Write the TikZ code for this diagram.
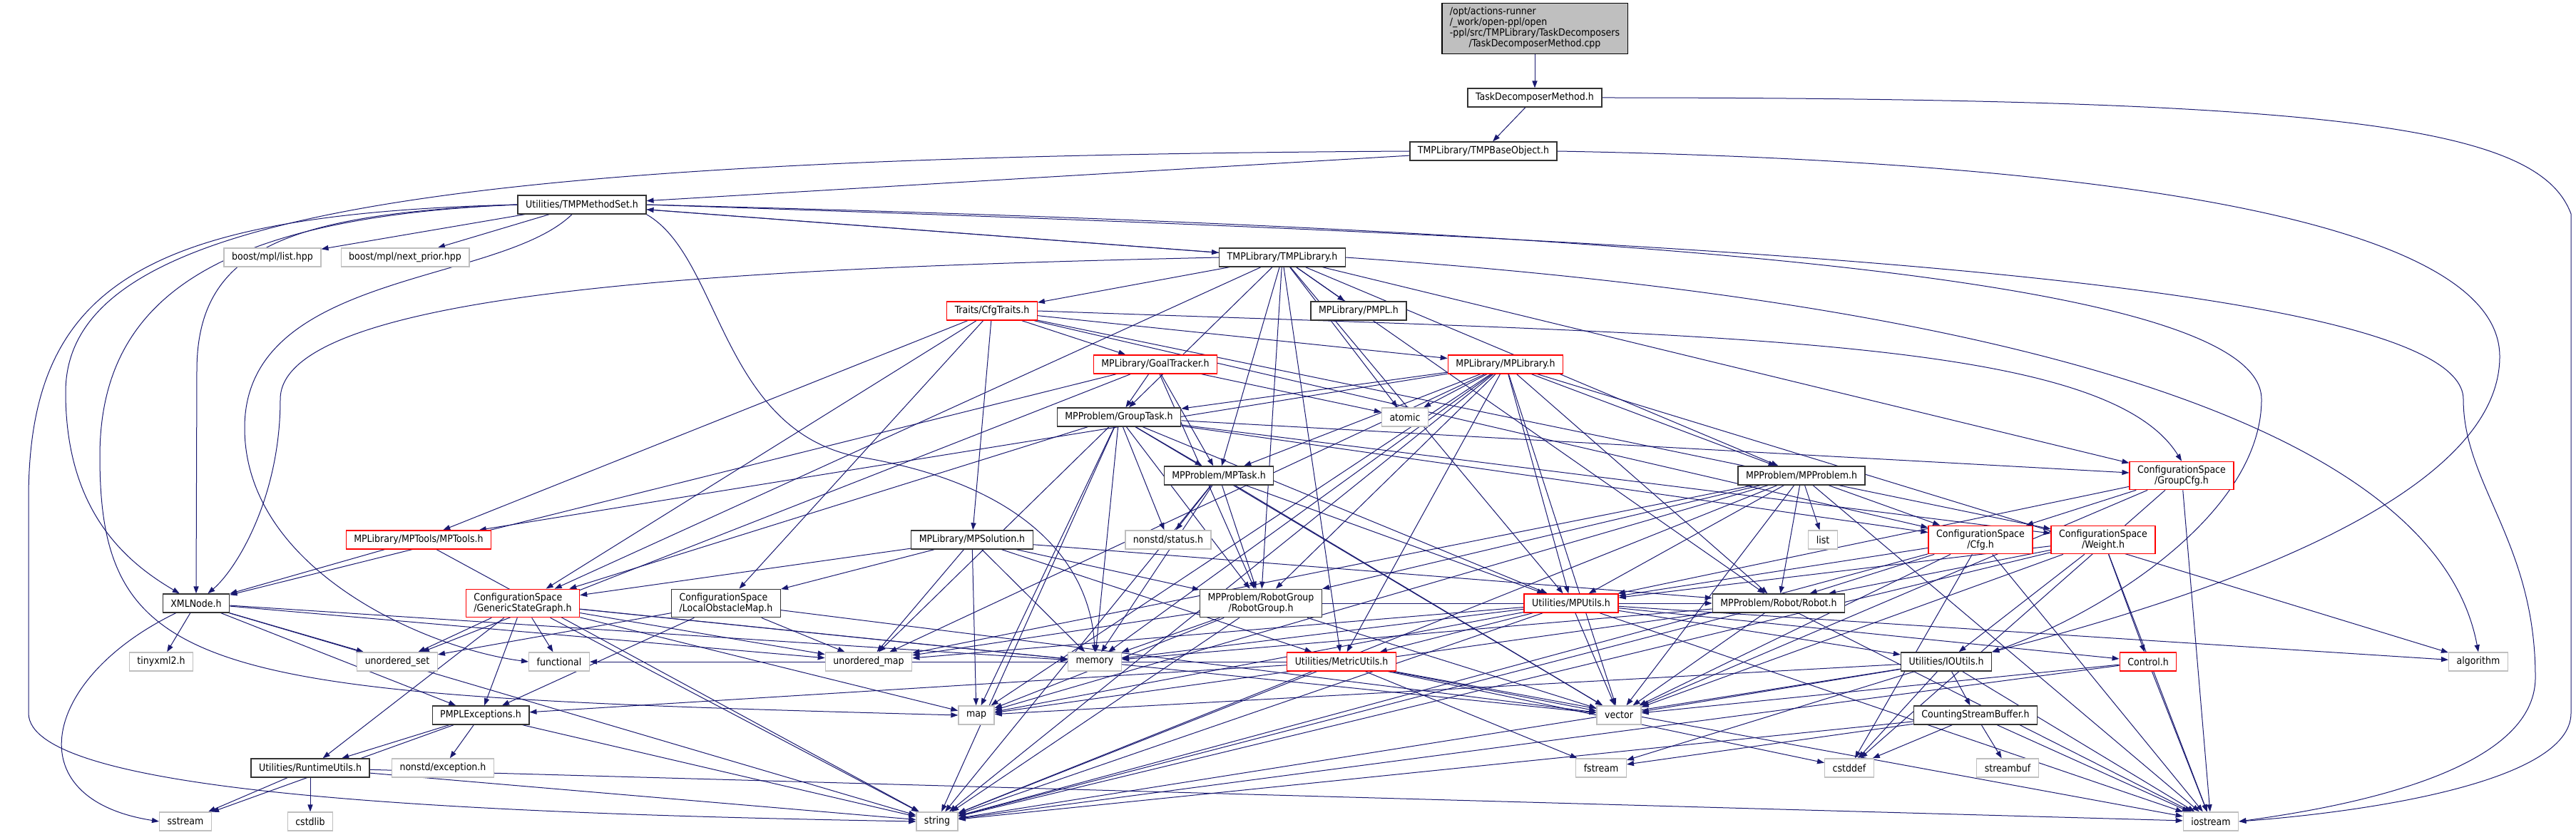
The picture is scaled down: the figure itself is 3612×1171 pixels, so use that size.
\documentclass[tikz,border=0pt]{standalone}
\usepackage{fontspec}
\setmainfont{DejaVu Sans Condensed}
\usetikzlibrary{arrows.meta}
\definecolor{edgeBlue}{RGB}{25,25,112}
\definecolor{sysGray}{RGB}{191,191,191}
\definecolor{warnRed}{RGB}{255,0,0}
\pgfdeclarelayer{bg}
\pgfsetlayers{bg,main}

\begin{document}
\begin{tikzpicture}[x=0.5pt, y=-0.5pt,
  hdr/.style={draw=black!80, line width=0.7pt, fill=white, font=\fontsize{7}{7.3}\selectfont,
    inner xsep=5.5pt, inner ysep=2.8pt, minimum height=13pt, align=center},
  trunc/.style={hdr, draw=warnRed},
  sys/.style={hdr, draw=sysGray},
  edge/.style={edgeBlue, line width=0.5pt, -{Triangle[length=5pt,width=3.6pt]}}]
  \useasboundingbox (0,0) rectangle (3612,1171);

  % files
  \node[hdr, fill=sysGray, draw=black] (root) at (2152,40) {\begin{tabular}{@{}l@{}}/opt/actions-runner\\/\_work/open-ppl/open\\-ppl/src/TMPLibrary/TaskDecomposers\\\multicolumn{1}{@{}c@{}}{/TaskDecomposerMethod.cpp}\end{tabular}};
  \node[hdr] (tdm) at (2152,137) {TaskDecomposerMethod.h};
  \node[hdr] (tbo) at (2080,212) {TMPLibrary/TMPBaseObject.h};
  \node[hdr] (tms) at (816,287) {Utilities/TMPMethodSet.h};
  \node[hdr] (tlib) at (1798,361) {TMPLibrary/TMPLibrary.h};
  \node[sys] (blist) at (382,361) {boost/mpl/list.hpp};
  \node[sys] (bnext) at (568,361) {boost/mpl/next\_prior.hpp};
  \node[trunc] (cfgtr) at (1391,436) {Traits/CfgTraits.h};
  \node[hdr] (pmpl) at (1905,436) {MPLibrary/PMPL.h};
  \node[trunc] (goal) at (1620,511) {MPLibrary/GoalTracker.h};
  \node[trunc] (mplib) at (2111,511) {MPLibrary/MPLibrary.h};
  \node[sys] (atomic) at (1970,585) {atomic};
  \node[hdr] (gtask) at (1569,585) {MPProblem/GroupTask.h};
  \node[hdr] (mptask) at (1709,667) {MPProblem/MPTask.h};
  \node[hdr] (mpprob) at (2526,667) {MPProblem/MPProblem.h};
  \node[trunc] (gcfg) at (3059,667) {ConfigurationSpace\\/GroupCfg.h};
  \node[trunc] (mptools) at (587,757) {MPLibrary/MPTools/MPTools.h};
  \node[hdr] (mpsol) at (1363,757) {MPLibrary/MPSolution.h};
  \node[sys] (status) at (1638,757) {nonstd/status.h};
  \node[sys] (list) at (2556,757) {list};
  \node[trunc] (cfg) at (2777,757) {ConfigurationSpace\\/Cfg.h};
  \node[trunc] (weight) at (2949,757) {ConfigurationSpace\\/Weight.h};
  \node[hdr] (xml) at (275,846) {XMLNode.h};
  \node[trunc, align=left] (gsg) at (733,846) {ConfigurationSpace\\/GenericStateGraph.h};
  \node[hdr, align=left] (lom) at (1018,846) {ConfigurationSpace\\/LocalObstacleMap.h};
  \node[hdr] (rgroup) at (1768,846) {MPProblem/RobotGroup\\/RobotGroup.h};
  \node[trunc] (mputils) at (2203,846) {Utilities/MPUtils.h};
  \node[hdr] (robot) at (2494,846) {MPProblem/Robot/Robot.h};
  \node[sys] (tinyxml) at (226,928) {tinyxml2.h};
  \node[sys] (uset) at (557,928) {unordered\_set};
  \node[sys] (functional) at (784,928) {functional};
  \node[sys] (umap) at (1218,928) {unordered\_map};
  \node[sys] (memory) at (1535,928) {memory};
  \node[trunc] (metric) at (1881,928) {Utilities/MetricUtils.h};
  \node[hdr] (ioutils) at (2729,928) {Utilities/IOUtils.h};
  \node[trunc] (control) at (3012,928) {Control.h};
  \node[sys] (algorithm) at (3475,928) {algorithm};
  \node[hdr] (pmplex) at (674,1003) {PMPLExceptions.h};
  \node[sys] (map) at (1369,1003) {map};
  \node[sys] (vector) at (2270,1003) {vector};
  \node[hdr] (csb) at (2770,1003) {CountingStreamBuffer.h};
  \node[hdr] (runtime) at (435,1077) {Utilities/RuntimeUtils.h};
  \node[sys] (nexc) at (621,1077) {nonstd/exception.h};
  \node[sys] (fstream) at (2245,1077) {fstream};
  \node[sys] (cstddef) at (2593,1077) {cstddef};
  \node[sys] (streambuf) at (2815,1077) {streambuf};
  \node[sys] (sstream) at (260,1152) {sstream};
  \node[sys] (cstdlib) at (435,1152) {cstdlib};
  \node[sys] (string) at (1314,1152) {string};
  \node[sys] (iostream) at (3100,1152) {iostream};

  % includes
  \begin{pgfonlayer}{bg}
  \draw[edge] (root) -- (tdm);
  \draw[edge] (tdm) -- (tbo);
  \draw[edge] (tdm.east) .. controls (3300,137) and (3560,180) .. (3605,300)
    -- (3605,1000) .. controls (3605,1100) and (3300,1140) .. (iostream.east);
  \draw[edge] (tbo) -- (tms);
  \draw[edge] (tbo.west) .. controls (600,220) and (92,300) .. (92,550)
    .. controls (92,720) and (180,790) .. (xml);
  \draw[edge] (tbo.east) .. controls (2900,225) and (3505,300) .. (3505,500)
    .. controls (3505,720) and (3000,860) .. (ioutils.north east);

  \foreach \t in {blist,bnext,tlib} \draw[edge] (tms) -- (\t);
  \draw[edge] (tms.west) .. controls (400,300) and (276,350) .. (276,520) -- (xml.north);
  \draw[edge] (tms.west) .. controls (200,300) and (40,400) .. (40,700)
    -- (40,1000) .. controls (40,1110) and (600,1140) .. (string.west);
  \draw[edge] (tms.west) .. controls (300,305) and (140,420) .. (140,640)
    .. controls (140,960) and (300,975) .. (map.west);
  \draw[edge] (tms) .. controls (700,400) and (343,380) .. (343,600)
    .. controls (343,800) and (600,910) .. (functional.west);
  \draw[edge] (tms.south east) .. controls (1010,360) and (1010,600) .. (1200,640)
    .. controls (1450,680) and (1530,800) .. (memory.north);
  \draw[edge] (tms.east) .. controls (2200,330) and (3454,380) .. (3454,560)
    .. controls (3454,680) and (3555,760) .. (3555,950)
    .. controls (3555,1080) and (3300,1130) .. (iostream.east);
  \draw[edge] (tms.east) .. controls (2200,320) and (3171,380) .. (3171,560)
    .. controls (3171,720) and (2950,860) .. (ioutils.north east);

  \foreach \t in {tms,cfgtr,pmpl,gtask,mptask,atomic,mpprob,robot,rgroup,mputils,metric,gsg,gcfg}
    \draw[edge] (tlib) -- (\t);
  \draw[edge] (tlib.west) .. controls (1100,375) and (393,400) .. (393,560)
    .. controls (393,700) and (330,800) .. (xml);
  \draw[edge] (tlib.east) .. controls (2900,430) and (3420,620) .. (algorithm.north);

  \foreach \t in {goal,mplib,mpsol,mptools,lom,gsg,cfg,weight}
    \draw[edge] (cfgtr) -- (\t);
  \draw[edge] (cfgtr.east) .. controls (2400,470) and (2950,470) .. (gcfg.north);
  \foreach \t in {gtask,mptask,atomic,rgroup,uset,xml}
    \draw[edge] (goal) -- (\t);
  \foreach \t in {atomic,gtask,mptask,mpprob,algorithm,mputils,metric,robot,rgroup,mptools,umap,vector,string,map,memory}
    \draw[edge] (mplib) -- (\t);
  \foreach \t in {mptask,status,gcfg,cfg,weight,memory,string,umap,map,vector,gsg,rgroup,mputils}
    \draw[edge] (gtask) -- (\t);
  \foreach \t in {status,rgroup,memory,string,vector,mputils}
    \draw[edge] (mptask) -- (\t);
  \foreach \t in {list,rgroup,robot,cfg,mputils,string,vector,iostream,umap,map}
    \draw[edge] (mpprob) -- (\t);
  \foreach \t in {cfg,mputils,vector,iostream,cstddef}
    \draw[edge] (gcfg) -- (\t);
  \foreach \t in {mputils,robot,vector,iostream,string,cstddef}
    \draw[edge] (cfg) -- (\t);
  \foreach \t in {control,robot,ioutils,vector,iostream,string,mputils}
    \draw[edge] (weight) -- (\t);
  \foreach \t in {iostream,vector,string}
    \draw[edge] (control) -- (\t);
  \foreach \t in {csb,iostream,vector,string,map,cstddef,fstream}
    \draw[edge] (ioutils) -- (\t);
  \foreach \t in {streambuf,iostream,cstddef,fstream,string}
    \draw[edge] (csb) -- (\t);
  \foreach \t in {metric,ioutils,control,vector,memory,umap,map,string,iostream,algorithm}
    \draw[edge] (mputils) -- (\t);
  \foreach \t in {vector,memory,string,iostream,map}
    \draw[edge] (robot) -- (\t);
  \foreach \t in {vector,fstream,cstddef,string,iostream,functional,pmplex}
    \draw[edge] (metric) -- (\t);
  \foreach \t in {robot,umap,string,vector,memory,map}
    \draw[edge] (rgroup) -- (\t);
  \foreach \t in {gsg,lom,umap,map,memory,metric,rgroup,robot}
    \draw[edge] (mpsol) -- (\t);
  \foreach \t in {umap,uset,pmplex,vector}
    \draw[edge] (lom) -- (\t);
  \foreach \t in {uset,functional,runtime,pmplex,umap,string,vector,map,memory}
    \draw[edge] (gsg) -- (\t);
  \foreach \t in {tinyxml,uset,string,pmplex,umap,memory}
    \draw[edge] (xml) -- (\t);
  \draw[edge] (xml) .. controls (60,950) and (20,1120) .. (sstream.west);
  \foreach \t in {xml,string}
    \draw[edge] (mptools) -- (\t);
  \foreach \t in {runtime,nexc,sstream,string}
    \draw[edge] (pmplex) -- (\t);
  \foreach \t in {sstream,cstdlib,iostream,string}
    \draw[edge] (runtime) -- (\t);
  \end{pgfonlayer}
\end{tikzpicture}
\end{document}
